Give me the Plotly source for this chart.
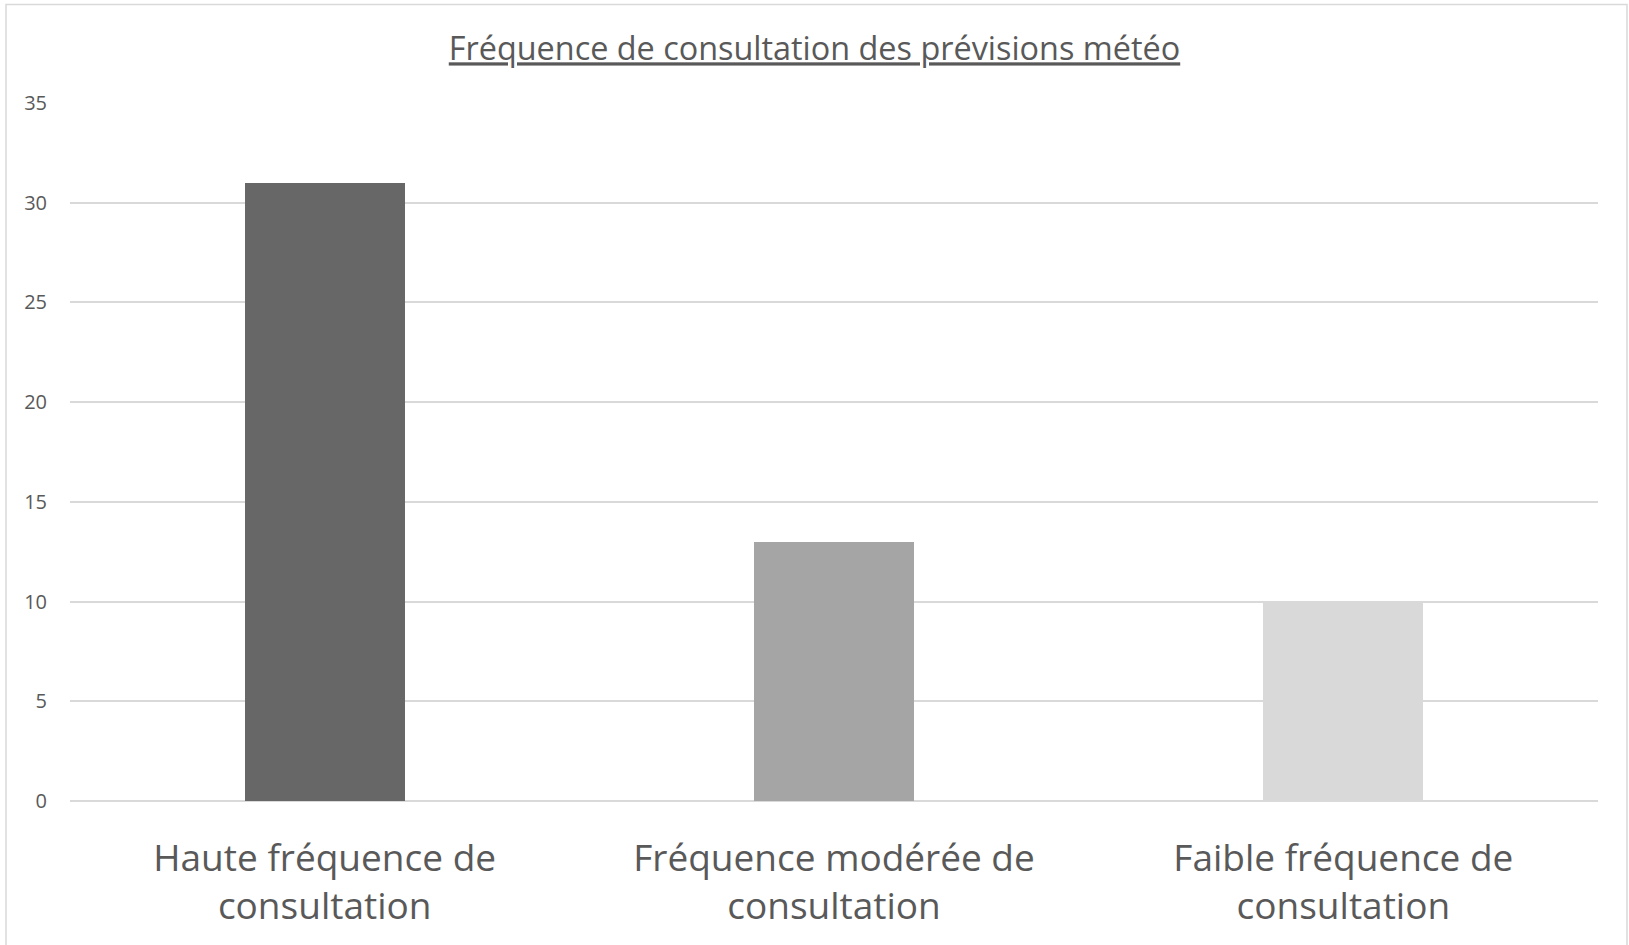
import plotly.graph_objects as go

categories = ["Haute fréquence de<br>consultation",
              "Fréquence modérée de<br>consultation",
              "Faible fréquence de<br>consultation"]
values = [31, 13, 10]
bar_colors = ["#676767", "#A5A5A5", "#D9D9D9"]
title_text = "Fréquence de consultation des prévisions météo"

W, H = 1629, 945
L, R, T, B = 70, 31, 103, 144
pw, ph = W - L - R, H - T - B

fig = go.Figure(go.Bar(x=categories, y=values, marker=dict(color=bar_colors, line=dict(width=0)),
                       width=0.314, hoverinfo="skip"))

def px_to_paper_x(px):
    return (px - L) / pw

def px_to_paper_y(py):
    return (H - B - py) / ph

fig.update_layout(
    width=W, height=H,
    margin=dict(l=L, r=R, t=T, b=B),
    paper_bgcolor="white", plot_bgcolor="white",
    font=dict(family="Open Sans", color="#595959"),
    title=dict(text="<u>" + title_text + "</u>", x=0.5, xref="container", y=1 - 49 / H, yanchor="middle",
               xanchor="center", font=dict(size=32.4, color="#595959", family="Open Sans")),
    showlegend=False,
    bargap=0,
    xaxis=dict(showgrid=False, showline=False, ticks="", tickfont=dict(size=37, color="#595959"),
               ticklabelstandoff=32),
    yaxis=dict(range=[0, 35], dtick=5, showgrid=True, gridcolor="#D9D9D9", gridwidth=1.5,
               zeroline=True, zerolinecolor="#D9D9D9", zerolinewidth=1.5, showline=False,
               ticks="", tickfont=dict(size=20, color="#595959"), ticklabelstandoff=22),
    shapes=[dict(type="rect", xref="paper", yref="paper",
                 x0=px_to_paper_x(6), x1=px_to_paper_x(1627),
                 y0=px_to_paper_y(950), y1=px_to_paper_y(4.5),
                 line=dict(color="#D9D9D9", width=1.5), fillcolor="rgba(0,0,0,0)", layer="below")],
)

fig.write_html("out.html", config={"displayModeBar": False},
               post_script="document.body.style.margin='0';document.body.style.overflow='hidden';")
